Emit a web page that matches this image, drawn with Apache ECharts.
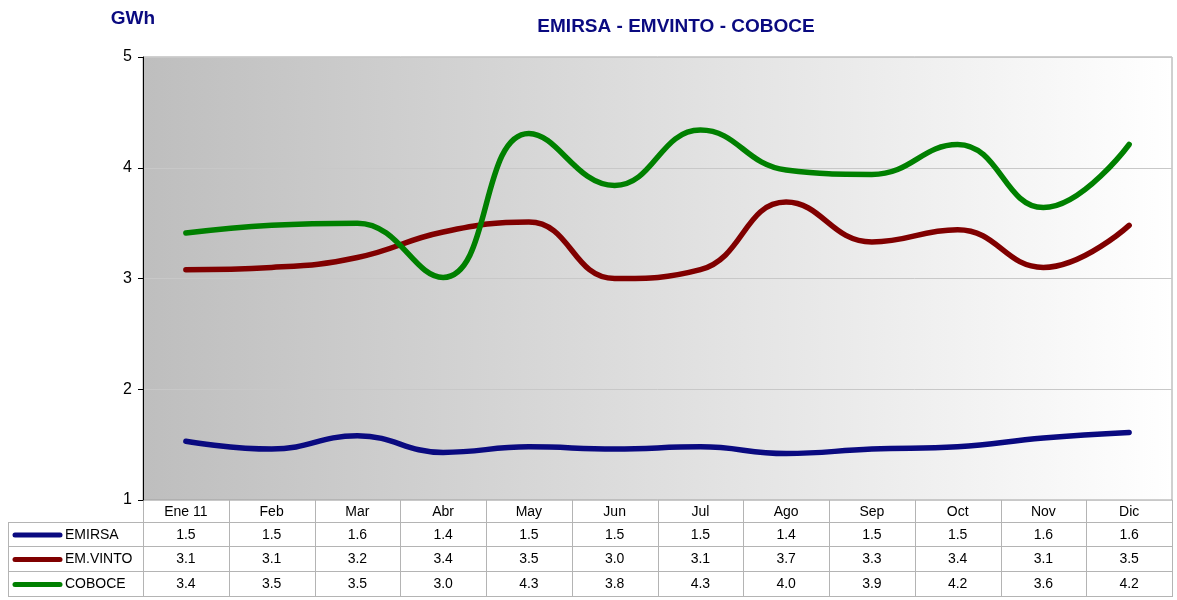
<!DOCTYPE html>
<html>
<head>
  <meta charset="UTF-8">
  <title>EMIRSA - EMVINTO - COBOCE</title>
  <script src="https://cdn.jsdelivr.net/npm/echarts@6/dist/echarts.min.js"></script>
  <style>
    html, body { margin: 0; padding: 0; background: #fff; }
    #main { width: 1177px; height: 600px; }
  </style>
</head>
<body>
  <div id="main"></div>
  <script>
    // datos
    var months = ['Ene 11', 'Feb', 'Mar', 'Abr', 'May', 'Jun', 'Jul', 'Ago', 'Sep', 'Oct', 'Nov', 'Dic'];
    var emirsa = [1.53, 1.46, 1.58, 1.43, 1.48, 1.46, 1.48, 1.42, 1.46, 1.48, 1.56, 1.61];
    var emvinto = [3.08, 3.10, 3.19, 3.42, 3.51, 3.00, 3.08, 3.69, 3.33, 3.44, 3.10, 3.48];
    var coboce = [3.41, 3.48, 3.50, 3.01, 4.31, 3.84, 4.34, 3.98, 3.94, 4.21, 3.64, 4.21];
    var seriesNames = ['EMIRSA', 'EM.VINTO', 'COBOCE'];
    var seriesColors = ['#0a0a80', '#800000', '#008000'];
    var seriesData = [emirsa, emvinto, coboce];

    var font = 'Liberation Sans, Arial, sans-serif';
    var myChart = echarts.init(document.getElementById('main'));

    var series = seriesNames.map(function (name, i) {
      return {
        name: name,
        type: 'line',
        data: seriesData[i],
        smooth: 0.45,
        symbol: 'none',
        lineStyle: { width: 5.5, color: seriesColors[i], cap: 'round' },
        itemStyle: { color: seriesColors[i] },
        z: 3
      };
    });

    var option = {
      animation: false,
      backgroundColor: '#fff',
      title: {
        text: 'EMIRSA - EMVINTO - COBOCE',
        left: 671,
        top: 12,
        textAlign: 'center',
        textStyle: { color: '#0a0a80', fontSize: 19, fontWeight: 'bold', fontFamily: font }
      },
      grid: {
        left: 143, right: 5, top: 57, bottom: 100,
        show: true,
        borderColor: '#a0a0a0',
        borderWidth: 1,
        backgroundColor: new echarts.graphic.LinearGradient(0, 0, 1, 0, [
          { offset: 0, color: '#bebebe' },
          { offset: 1, color: '#ffffff' }
        ])
      },
      xAxis: {
        type: 'category',
        data: months,
        boundaryGap: true,
        axisLine: { show: false },
        axisTick: { show: false },
        axisLabel: { color: '#000', fontSize: 14, fontFamily: font, margin: 5, verticalAlign: 'top' }
      },
      yAxis: {
        type: 'value',
        min: 1, max: 5, interval: 1,
        name: 'GWh',
        nameLocation: 'end',
        nameGap: 29,
        nameTextStyle: { color: '#0a0a80', fontSize: 19, fontWeight: 'bold', fontFamily: font, align: 'center', padding: [0, 0, 0, -20] },
        axisLine: { show: true, lineStyle: { color: '#000', width: 1 } },
        axisTick: { show: true, length: 5, lineStyle: { color: '#000' } },
        axisLabel: { color: '#000', fontSize: 16, fontFamily: font, margin: 11 },
        splitLine: { show: true, lineStyle: { color: '#c8c8c8', width: 1 } }
      },
      series: series
    };
    myChart.setOption(option);

    // tabla de datos bajo el grafico
    var gridLeft = 143, gridRight = 1172, top0 = 500;
    var rowTops = [500, 523, 547, 572, 597];
    var tableLeft = 8;
    var lineColor = '#b4b4b4';
    var els = [];
    var half = (myChart.convertToPixel({ xAxisIndex: 0 }, 1) - myChart.convertToPixel({ xAxisIndex: 0 }, 0)) / 2;

    // lineas horizontales
    rowTops.forEach(function (y, k) {
      if (k === 0) return;
      els.push({ type: 'line', shape: { x1: tableLeft, y1: y - 0.5, x2: gridRight, y2: y - 0.5 }, style: { stroke: lineColor, lineWidth: 1 } });
    });
    // lineas verticales
    els.push({ type: 'line', shape: { x1: tableLeft + 0.5, y1: rowTops[1], x2: tableLeft + 0.5, y2: rowTops[4] }, style: { stroke: lineColor, lineWidth: 1 } });
    months.forEach(function (m, i) {
      var cx = myChart.convertToPixel({ xAxisIndex: 0 }, i);
      var xl = Math.round(cx - half) + 0.5;
      els.push({ type: 'line', shape: { x1: xl, y1: top0, x2: xl, y2: rowTops[4] }, style: { stroke: lineColor, lineWidth: 1 } });
    });
    els.push({ type: 'line', shape: { x1: gridRight + 0.5, y1: top0, x2: gridRight + 0.5, y2: rowTops[4] }, style: { stroke: lineColor, lineWidth: 1 } });

    // filas de series
    seriesNames.forEach(function (name, r) {
      var cy = (rowTops[r + 1] + rowTops[r + 2]) / 2;
      els.push({ type: 'line', shape: { x1: 15, y1: cy, x2: 60, y2: cy }, style: { stroke: seriesColors[r], lineWidth: 5, lineCap: 'round' } });
      els.push({ type: 'text', x: 65, y: cy, style: { text: name, fill: '#000', font: '14px ' + font, verticalAlign: 'middle' } });
      seriesData[r].forEach(function (v, i) {
        var cx = myChart.convertToPixel({ xAxisIndex: 0 }, i);
        els.push({ type: 'text', x: cx, y: cy, style: { text: (Math.round(v * 10) / 10).toFixed(1), fill: '#000', font: '14px ' + font, align: 'center', verticalAlign: 'middle' } });
      });
    });

    myChart.setOption({ graphic: { elements: els } });
  </script>
</body>
</html>
